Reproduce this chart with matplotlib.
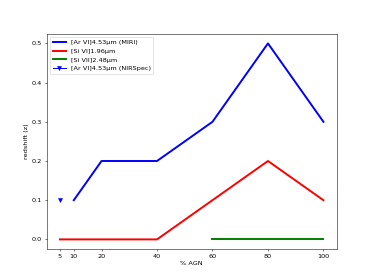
import matplotlib
matplotlib.use("Agg")
import matplotlib.pyplot as plt

agn_miri = [10, 20, 40, 60, 80, 100]
z_arvi_miri = [0.1, 0.2, 0.2, 0.3, 0.5, 0.3]
agn_sivi = [5, 10, 20, 40, 60, 80, 100]
z_sivi = [0.0, 0.0, 0.0, 0.0, 0.1, 0.2, 0.1]
agn_sivii = [60, 80, 100]
z_sivii = [0.0, 0.0, 0.0]
agn_nirspec = [5]
z_arvi_nirspec = [0.1]
xticks = [5, 10, 20, 40, 60, 80, 100]

dpi = 374 / 8.0
fig, ax = plt.subplots(figsize=(8, 280 / dpi), dpi=dpi)
ax.plot(agn_miri, z_arvi_miri, color="blue", lw=3, label="[Ar VI]4.53\u00b5m (MIRI)")
ax.plot(agn_sivi, z_sivi, color="red", lw=3, label="[Si VI]1.96\u00b5m")
ax.plot(agn_sivii, z_sivii, color="green", lw=3, label="[Si VII]2.48\u00b5m")
ax.plot(agn_nirspec, z_arvi_nirspec, color="blue", marker="v", lw=1.5,
        label="[Ar VI]4.53\u00b5m (NIRSpec)")
ax.set_xticks(xticks)
ax.set_xlabel("% AGN")
ax.set_ylabel("redshift (z)")
ax.legend(loc="upper left")
fig.savefig("out.png", dpi=dpi)
